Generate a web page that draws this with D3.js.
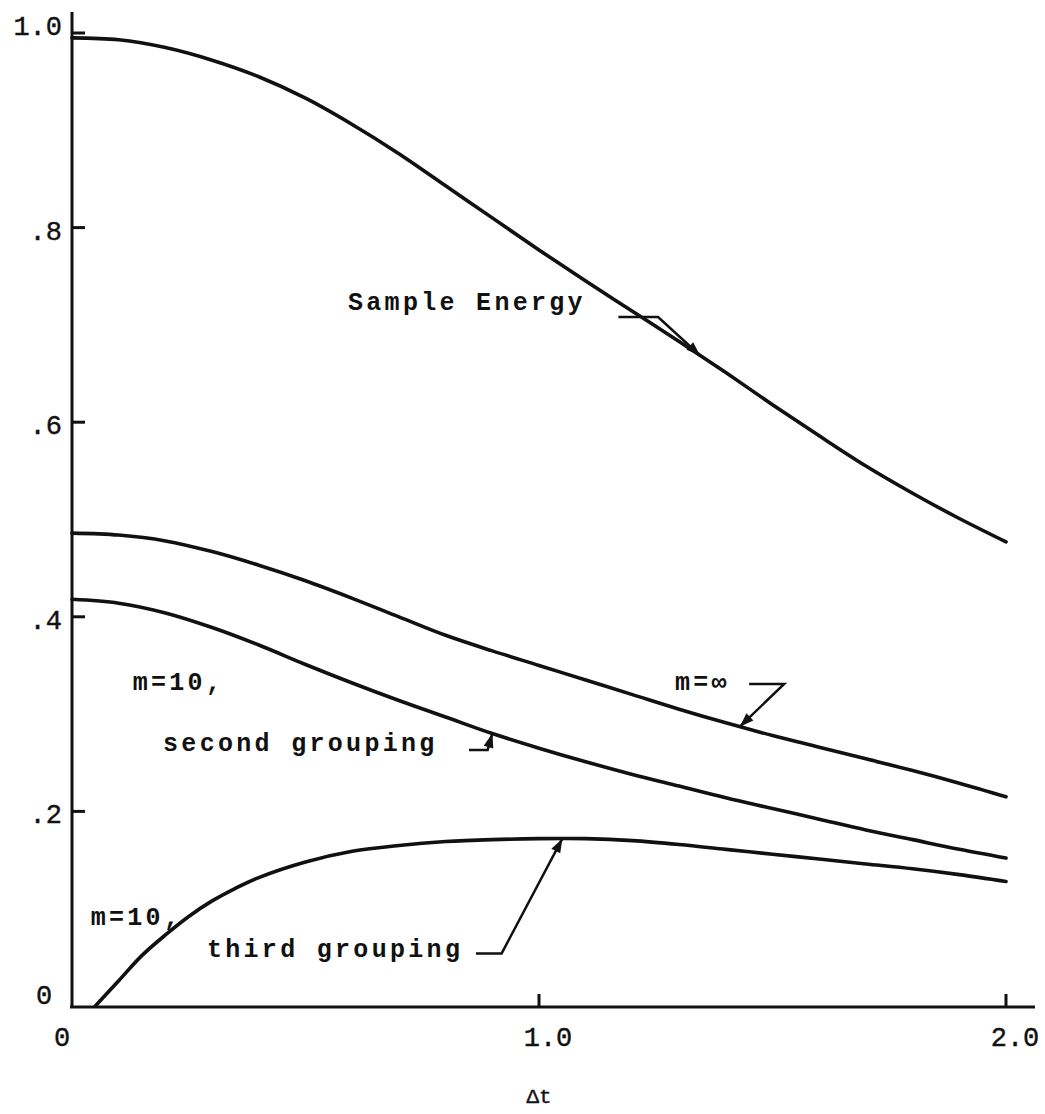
<!DOCTYPE html>
<html>
<head>
<meta charset="utf-8">
<script src="https://d3js.org/d3.v7.min.js"></script>
<style>
  body { margin: 0; background: #fff; }
  text { font-family: "Liberation Mono", "DejaVu Sans Mono", monospace; fill: #111; }
  .tick-label { font-size: 27px; stroke: #111; stroke-width: 0.4px; }
  .note { font-size: 25px; font-weight: bold; letter-spacing: 3.3px; }
  .curve { fill: none; stroke: #111; stroke-width: 3.6px; stroke-linecap: round; }
  .axis-line { stroke: #111; stroke-width: 3px; }
</style>
</head>
<body>
<div id="chart"></div>
<script>
const svgWidth = 1045;
const svgHeight = 1114;

const chartMargin = { top: 33, right: 39, bottom: 108, left: 72 };
const width = svgWidth - chartMargin.left - chartMargin.right;
const height = svgHeight - chartMargin.top - chartMargin.bottom;

// data
const dtValues = [0, 0.1, 0.2, 0.3, 0.4, 0.5, 0.6, 0.7, 0.8, 0.9, 1.0,
                  1.1, 1.2, 1.3, 1.4, 1.5, 1.6, 1.7, 1.8, 1.9, 2.0];
const sampleEnergy = [0.995, 0.993, 0.985, 0.972, 0.955, 0.933, 0.906, 0.876, 0.843, 0.810, 0.777,
                      0.745, 0.714, 0.683, 0.651, 0.618, 0.586, 0.555, 0.527, 0.501, 0.477];
const mInfinity = [0.486, 0.484, 0.478, 0.467, 0.453, 0.437, 0.419, 0.400, 0.381, 0.365, 0.350,
                   0.335, 0.320, 0.305, 0.291, 0.278, 0.266, 0.254, 0.242, 0.229, 0.215];
const secondGrouping = [0.418, 0.414, 0.404, 0.389, 0.371, 0.351, 0.332, 0.314, 0.297, 0.280, 0.265,
                        0.251, 0.238, 0.226, 0.214, 0.203, 0.192, 0.181, 0.171, 0.161, 0.152];
const thirdDt = [0.05, 0.1, 0.15, 0.2, 0.25, 0.3, 0.35, 0.4, 0.5, 0.6, 0.7, 0.8, 0.9, 1.0,
                 1.1, 1.2, 1.3, 1.4, 1.5, 1.6, 1.7, 1.8, 1.9, 2.0];
const thirdGrouping = [0.0, 0.026, 0.052, 0.073, 0.092, 0.108, 0.121, 0.132, 0.148, 0.159, 0.165, 0.169, 0.171, 0.172,
                       0.172, 0.170, 0.166, 0.161, 0.156, 0.151, 0.146, 0.141, 0.135, 0.128];

const yTicks = [0, 0.2, 0.4, 0.6, 0.8, 1.0];
const yTickLabels = ["0", ".2", ".4", ".6", ".8", "1.0"];
const xTicks = [0, 1.0, 2.0];
const xTickLabels = ["0", "1.0", "2.0"];

const svg = d3.select("#chart")
  .append("svg")
  .attr("width", svgWidth)
  .attr("height", svgHeight);

const chartGroup = svg.append("g")
  .attr("transform", `translate(${chartMargin.left}, ${chartMargin.top})`);

const xScale = d3.scaleLinear().domain([0, 2.0]).range([0, width]);
const yScale = d3.scaleLinear().domain([0, 1.0]).range([height, 0]);

// axis lines with inward ticks
chartGroup.append("line").attr("class", "axis-line")
  .attr("x1", 0).attr("x2", 0).attr("y1", -21).attr("y2", height + 1);
chartGroup.append("line").attr("class", "axis-line")
  .attr("x1", -2).attr("x2", width + 29).attr("y1", height + 1).attr("y2", height + 1);

chartGroup.selectAll(".ytick")
  .data(yTicks.filter(d => d > 0))
  .enter().append("line")
  .attr("class", "axis-line")
  .attr("x1", 0).attr("x2", 13)
  .attr("y1", d => yScale(d)).attr("y2", d => yScale(d));

chartGroup.selectAll(".xtick")
  .data(xTicks.filter(d => d > 0))
  .enter().append("line")
  .attr("class", "axis-line")
  .attr("x1", d => xScale(d)).attr("x2", d => xScale(d))
  .attr("y1", height + 1).attr("y2", height - 12);

chartGroup.selectAll(".ylabel")
  .data(yTicks)
  .enter().append("text")
  .attr("class", "tick-label")
  .attr("text-anchor", d => d === 0 ? "middle" : "end")
  .attr("x", d => d === 0 ? -28 : -10)
  .attr("y", d => yScale(d) + (d === 0 ? -2 : d === 1 ? 2 : 12))
  .text((d, i) => yTickLabels[i]);

chartGroup.selectAll(".xlabel")
  .data(xTicks)
  .enter().append("text")
  .attr("class", "tick-label")
  .attr("text-anchor", "middle")
  .attr("x", d => d === 0 ? xScale(d) - 10 : xScale(d) + 9)
  .attr("y", height + 40)
  .text((d, i) => xTickLabels[i]);

chartGroup.append("text")
  .attr("class", "tick-label")
  .style("font-size", "21px")
  .attr("text-anchor", "middle")
  .attr("x", xScale(1.0))
  .attr("y", height + 97)
  .text("\u0394t");

// curves
const line = d3.line()
  .x(d => xScale(d[0]))
  .y(d => yScale(d[1]))
  .curve(d3.curveCatmullRom.alpha(0.5));

const series = [
  dtValues.map((t, i) => [t, sampleEnergy[i]]),
  dtValues.map((t, i) => [t, mInfinity[i]]),
  dtValues.map((t, i) => [t, secondGrouping[i]]),
  thirdDt.map((t, i) => [t, thirdGrouping[i]])
];

chartGroup.selectAll(".curve")
  .data(series)
  .enter().append("path")
  .attr("class", "curve")
  .attr("d", line);

// value on a curve at dt, for arrow tips
function valueAt(xs, ys, t) {
  const i = Math.max(1, d3.bisectLeft(xs, t));
  const f = (t - xs[i - 1]) / (xs[i] - xs[i - 1]);
  return ys[i - 1] + f * (ys[i] - ys[i - 1]);
}

// annotations: text position and arrow path, in data units
const notes = [
  { lines: [["Sample Energy", 0.591, 0.715]],
    arrow: [[1.17, 0.708], [1.255, 0.708]], tip: [1.345, valueAt(dtValues, sampleEnergy, 1.345)] },
  { lines: [["m=\u221e", 1.291, 0.325]],
    arrow: [[1.45, 0.331], [1.525, 0.331]], tip: [1.43, valueAt(dtValues, mInfinity, 1.43)] },
  { lines: [["m=10,", 0.13, 0.325], ["second grouping", 0.195, 0.262]],
    arrow: [[0.85, 0.263], [0.89, 0.263]], tip: [0.9, valueAt(dtValues, secondGrouping, 0.9)] },
  { lines: [["m=10,", 0.04, 0.083], ["third grouping", 0.289, 0.05]],
    arrow: [[0.865, 0.054], [0.92, 0.054]], tip: [1.05, valueAt(thirdDt, thirdGrouping, 1.05)] }
];

notes.forEach(n => {
  n.lines.forEach(l => {
    chartGroup.append("text")
      .attr("class", "note")
      .attr("x", xScale(l[1]))
      .attr("y", yScale(l[2]))
      .text(l[0]);
  });
  const pts = n.arrow.concat([n.tip]).map(p => [xScale(p[0]), yScale(p[1])]);
  chartGroup.append("path")
    .attr("d", d3.line()(pts))
    .attr("fill", "none")
    .attr("stroke", "#111")
    .attr("stroke-width", 2.5);
  // arrowhead
  const a = pts[pts.length - 2], b = pts[pts.length - 1];
  const ang = Math.atan2(b[1] - a[1], b[0] - a[0]);
  const len = 14, half = 5;
  const back = [b[0] - len * Math.cos(ang), b[1] - len * Math.sin(ang)];
  const head = [
    b,
    [back[0] + half * Math.sin(ang), back[1] - half * Math.cos(ang)],
    [back[0] - half * Math.sin(ang), back[1] + half * Math.cos(ang)]
  ];
  chartGroup.append("path")
    .attr("d", d3.line()(head) + "Z")
    .attr("fill", "#111");
});
</script>
</body>
</html>
